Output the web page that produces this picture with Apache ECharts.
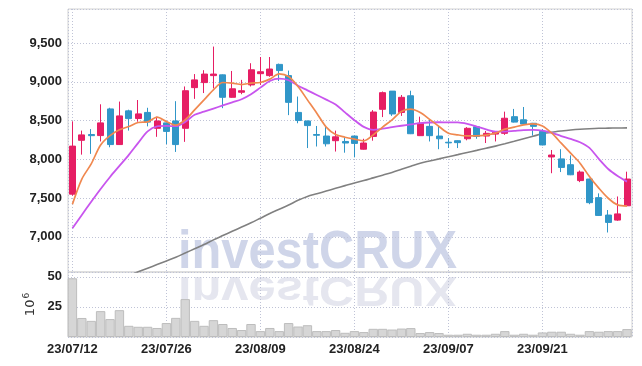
<!DOCTYPE html>
<html>
<head>
<meta charset="utf-8">
<title>investCRUX</title>
<script src="https://cdn.jsdelivr.net/npm/echarts@6/dist/echarts.min.js"></script>
<style>
    * { margin: 0; padding: 0; }
    html, body { width: 100%; height: 100%; background: #fff; }
    #chart { width: 642px; height: 366px; }
</style>
</head>
<body>
<div id="chart"></div>
<script>
    // trading days
    var dates = [
        '23/07/12','23/07/13','23/07/14','23/07/17','23/07/18','23/07/19','23/07/20','23/07/21','23/07/24','23/07/25',
        '23/07/26','23/07/27','23/07/28','23/07/31','23/08/01','23/08/02','23/08/03','23/08/04','23/08/07','23/08/08',
        '23/08/09','23/08/10','23/08/11','23/08/14','23/08/16','23/08/17','23/08/18','23/08/21','23/08/22','23/08/23',
        '23/08/24','23/08/25','23/08/28','23/08/29','23/08/30','23/08/31','23/09/01','23/09/04','23/09/05','23/09/06',
        '23/09/07','23/09/08','23/09/11','23/09/12','23/09/13','23/09/14','23/09/15','23/09/18','23/09/19','23/09/20',
        '23/09/21','23/09/22','23/09/25','23/09/26','23/09/27','23/10/04','23/10/05','23/10/06','23/10/10','23/10/11'
    ];

    // open, close, low, high
    var ohlc = [
        [7550, 8170, 7530, 8490], [8245, 8315, 8060, 8370], [8320, 8305, 8070, 8390], [8306, 8470, 8230, 8710],
        [8650, 8190, 8155, 8665], [8190, 8560, 8185, 8745], [8625, 8525, 8370, 8640], [8526, 8586, 8485, 8765],
        [8605, 8480, 8425, 8665], [8400, 8495, 8290, 8550], [8470, 8360, 8195, 8475], [8495, 8190, 8095, 8750],
        [8400, 8885, 8225, 8940], [8925, 9025, 8780, 9100], [8990, 9100, 8855, 9150], [9080, 9100, 8915, 9455],
        [9090, 8800, 8660, 9095], [8800, 8910, 8795, 9140], [8865, 8885, 8840, 9025], [8960, 9155, 8940, 9240],
        [9105, 9130, 8960, 9320], [9080, 9165, 9065, 9320], [9225, 9145, 9010, 9235], [9080, 8735, 8570, 9145],
        [8605, 8500, 8465, 8810], [8495, 8435, 8145, 8500], [8320, 8310, 8165, 8430], [8300, 8200, 8165, 8425],
        [8240, 8290, 8100, 8370], [8230, 8210, 8085, 8285], [8300, 8205, 8025, 8305], [8130, 8210, 8125, 8265],
        [8295, 8610, 8240, 8635], [8645, 8860, 8545, 8875], [8880, 8585, 8560, 8880], [8605, 8800, 8560, 8830],
        [8820, 8330, 8325, 8885], [8305, 8465, 8300, 8550], [8425, 8305, 8230, 8510], [8300, 8265, 8130, 8430],
        [8220, 8212, 8145, 8275], [8240, 8215, 8145, 8245], [8265, 8400, 8245, 8415], [8420, 8295, 8265, 8430],
        [8300, 8335, 8210, 8365], [8325, 8350, 8230, 8365], [8335, 8530, 8315, 8615], [8550, 8480, 8475, 8650],
        [8510, 8455, 8450, 8675], [8465, 8425, 8305, 8470], [8360, 8185, 8180, 8390], [8030, 8055, 7820, 8120],
        [8005, 7895, 7835, 8130], [7930, 7800, 7795, 8050], [7725, 7835, 7705, 7855], [7745, 7440, 7420, 7750],
        [7505, 7275, 7270, 7560], [7280, 7185, 7055, 7345], [7215, 7295, 7205, 7520], [7400, 7745, 7395, 7840]
    ];

    var maShort = [7420, 7745, 7940, 8185, 8305, 8380, 8423, 8475, 8483, 8544, 8487, 8440, 8509, 8638, 8767,
        8897, 8991, 8983, 8965, 8983, 8991, 9035, 9103, 9068, 8939, 8767, 8595, 8415, 8319, 8285, 8260, 8238,
        8315, 8415, 8509, 8617, 8647, 8603, 8515, 8423, 8337, 8315, 8302, 8302, 8311, 8337, 8389, 8415, 8444,
        8457, 8431, 8337, 8208, 8079, 7950, 7777, 7627, 7497, 7411, 7398];

    var maMid = [7110, 7282, 7452, 7617, 7772, 7914, 8057, 8212, 8360, 8425, 8431, 8427, 8483, 8575, 8615,
        8655, 8695, 8735, 8775, 8840, 8925, 9010, 9040, 9020, 8950, 8890, 8830, 8770, 8708, 8605, 8505, 8418,
        8380, 8395, 8415, 8433, 8450, 8466, 8475, 8478, 8477, 8476, 8457, 8423, 8386, 8358, 8358, 8367, 8376,
        8380, 8371, 8341, 8300, 8263, 8220, 8147, 8005, 7875, 7785, 7712];

    var maLong = [6218, 6265, 6312, 6359, 6406, 6453, 6500, 6547, 6594, 6641, 6688, 6735, 6790, 6845, 6900,
        6960, 7015, 7070, 7125, 7180, 7240, 7300, 7355, 7410, 7470, 7520, 7555, 7590, 7625, 7660, 7695, 7725,
        7760, 7795, 7830, 7870, 7910, 7950, 7978, 8005, 8033, 8060, 8088, 8115, 8143, 8170, 8200, 8232, 8265,
        8297, 8330, 8350, 8365, 8378, 8388, 8395, 8400, 8402, 8404, 8405];

    // 10^6 shares
    var volume = [48.8, 15.8, 13.4, 21.5, 14.9, 22.3, 9.3, 8.5, 8.5, 7.5, 11.6, 15.9, 31.5, 13.4, 9.3,
        14.0, 10.8, 7.5, 5.8, 10.8, 4.9, 7.5, 4.9, 11.6, 8.7, 9.8, 4.9, 4.9, 5.8, 3.5, 4.9, 4.1,
        6.8, 6.8, 6.2, 7.0, 7.4, 3.3, 4.1, 3.3, 1.9, 1.9, 2.7, 1.9, 1.9, 2.7, 4.9, 1.9, 2.7,
        1.9, 3.8, 4.4, 4.4, 2.7, 1.9, 4.9, 4.4, 4.9, 4.9, 6.6];

    var priceTicks = [7000, 7500, 8000, 8500, 9000, 9500];
    var volumeTicks = [25, 50];

    var upColor = '#e61e64';
    var downColor = '#3096c8';
    var labelFont = '"Liberation Sans", Arial, sans-serif';
    var gridLine = { show: true, lineStyle: { color: '#bfc3d6', type: [1, 2], width: 1 } };

    function pairs(arr) {
        return arr.map(function (v, i) { return [i, v]; });
    }

    var candleData = ohlc.map(function (d, i) { return [i, d[0], d[1], d[2], d[3]]; });

    var xBase = { type: 'value', min: -0.47, max: 59.53, splitNumber: 6,
        axisLine: { show: false }, axisTick: { show: false }, splitLine: gridLine };

    var labelStyle = { margin: 6, color: '#222', fontFamily: labelFont, fontWeight: 'bold', fontSize: 13 };

    var myChart = echarts.init(document.getElementById('chart'));

    var option = {
        animation: false,
        backgroundColor: '#fff',
        grid: [
            { left: 68, width: 564, top: 9, height: 263, show: true, borderColor: '#d2d2d2', borderWidth: 1 },
            { left: 68, width: 564, top: 272, height: 65, show: true, borderColor: '#d2d2d2', borderWidth: 1 }
        ],
        graphic: [
            {
                type: 'text', z: -10, x: 178, y: 272, scaleX: 0.92,
                style: { text: 'investCRUX', x: 0, y: -18.5, verticalAlign: 'middle',
                    font: 'bold 53px "Liberation Sans"', fill: '#cfd5e9' }
            },
            {
                type: 'text', z: -10, x: 178, y: 274, scaleX: 0.92, scaleY: -0.8,
                style: { text: 'investCRUX', x: 0, y: -18.5, verticalAlign: 'middle',
                    font: 'bold 53px "Liberation Sans"', fill: '#e5e6ef' }
            }
        ],
        xAxis: [
            echarts.util.extend({ gridIndex: 0, axisLabel: { show: false } }, xBase),
            echarts.util.extend({
                gridIndex: 1,
                axisLabel: echarts.util.extend({
                    formatter: function (v) { return Number.isInteger(v) ? dates[v] : ''; }
                }, labelStyle)
            }, xBase)
        ],
        yAxis: [
            {
                gridIndex: 0, type: 'value', min: 6545, max: 9940, splitNumber: 5,
                axisLine: { show: false }, axisTick: { show: false }, splitLine: gridLine,
                axisLabel: echarts.util.extend({
                    formatter: function (v) {
                        return priceTicks.indexOf(v) >= 0 ? v.toLocaleString('en-US') : '';
                    }
                }, labelStyle)
            },
            {
                gridIndex: 1, type: 'value', min: 0, max: 54, interval: 25,
                axisLine: { show: false }, axisTick: { show: false }, splitLine: gridLine,
                name: '{b|10}{s|6}', nameLocation: 'middle', nameRotate: 90, nameGap: 24,
                nameTextStyle: {
                    rich: {
                        b: { fontSize: 13, color: '#333', fontFamily: 'DejaVu Sans' },
                        s: { fontSize: 9, color: '#333', fontFamily: 'DejaVu Sans', verticalAlign: 'top', padding: [0, 0, 6, 1] }
                    }
                },
                axisLabel: echarts.util.extend({
                    formatter: function (v) { return volumeTicks.indexOf(v) >= 0 ? String(v) : ''; }
                }, labelStyle)
            }
        ],
        series: [
            {
                type: 'bar', xAxisIndex: 1, yAxisIndex: 1, barWidth: 9.4,
                itemStyle: { color: '#d6d6d6', borderColor: '#bdbdbd', borderWidth: 1 },
                data: pairs(volume)
            },
            {
                type: 'line', xAxisIndex: 0, yAxisIndex: 0, data: pairs(maLong), symbol: 'none',
                smooth: 0.3, lineStyle: { color: '#808080', width: 1.6 }, z: 3
            },
            {
                type: 'candlestick', xAxisIndex: 0, yAxisIndex: 0, barWidth: 6.5,
                encode: { x: 0, y: [1, 2, 3, 4] },
                itemStyle: { color: upColor, color0: downColor, borderColor: upColor, borderColor0: downColor, borderWidth: 1 },
                data: candleData, z: 4
            },
            {
                type: 'line', xAxisIndex: 0, yAxisIndex: 0, data: pairs(maMid), symbol: 'none',
                smooth: 0.3, lineStyle: { color: '#c855ee', width: 1.8 }, z: 5
            },
            {
                type: 'line', xAxisIndex: 0, yAxisIndex: 0, data: pairs(maShort), symbol: 'none',
                smooth: 0.3, lineStyle: { color: '#f0884f', width: 1.7 }, z: 6
            }
        ]
    };

    myChart.setOption(option);
</script>
</body>
</html>
